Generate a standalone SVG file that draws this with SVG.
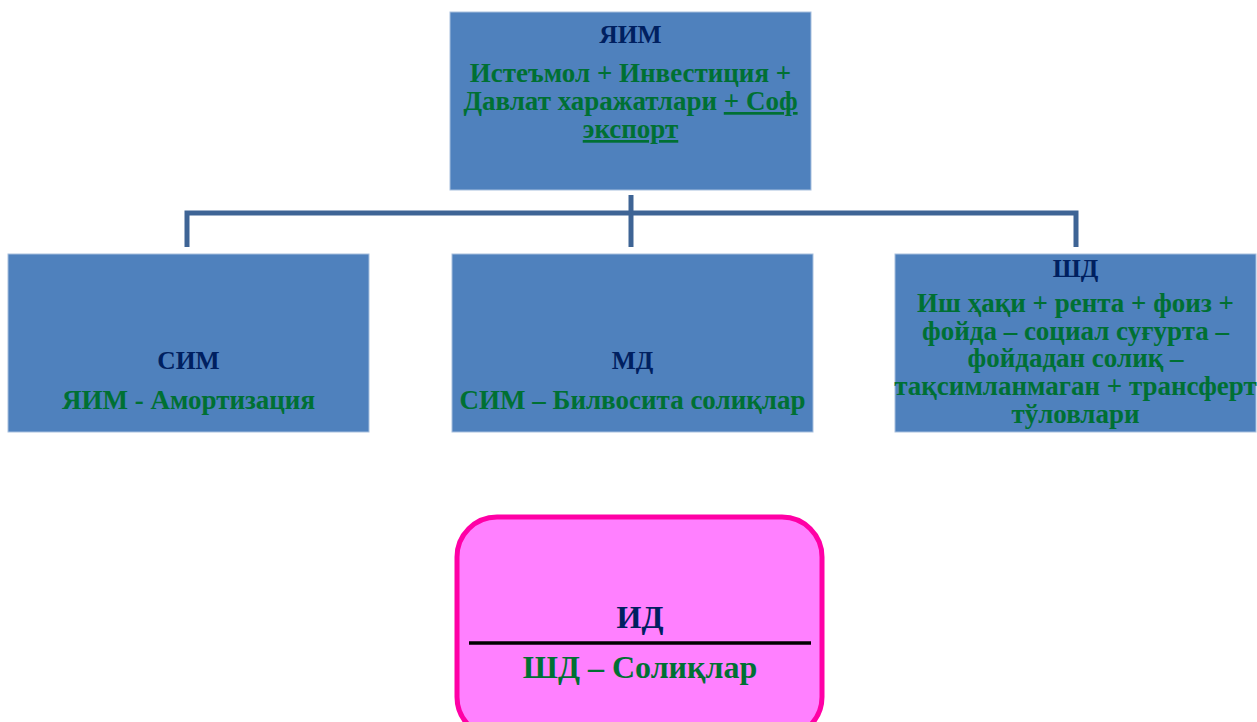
<svg xmlns="http://www.w3.org/2000/svg" width="1257" height="722" viewBox="0 0 1257 722">
<style>
.box{fill:#4f81bd;stroke:#a7bfde;stroke-width:1}
.t{font-family:"Liberation Serif","Times New Roman",serif;font-weight:bold;text-anchor:middle}
.h{fill:#002060;font-size:25.5px}
.g{fill:#007033;font-size:27px}
.conn{fill:none;stroke:#3e6495;stroke-width:5}
</style>
<rect width="1257" height="722" fill="#ffffff"/>
<g id="connectors">
<path class="conn" d="M187 247 V213 H1076 V247"/>
<path class="conn" d="M631 195 V247"/>
</g>
<g id="node-yaim">
<rect class="box" x="450" y="12" width="361" height="178"/>
<text class="t h" x="630.5" y="43">ЯИМ</text>
<text class="t g" x="630.5" y="82">Истеъмол + Инвестиция +</text>
<text class="t g" x="630.5" y="110">Давлат харажатлари <tspan text-decoration="underline">+ Соф</tspan></text>
<text class="t g" x="630.5" y="138" text-decoration="underline">экспорт</text>
</g>
<g id="node-sim">
<rect class="box" x="8" y="254" width="361" height="178"/>
<text class="t h" x="188.5" y="369">СИМ</text>
<text class="t g" x="188.5" y="409">ЯИМ - Амортизация</text>
</g>
<g id="node-md">
<rect class="box" x="452" y="254" width="361" height="178"/>
<text class="t h" x="632.5" y="369">МД</text>
<text class="t g" x="632.5" y="409">СИМ – Билвосита солиқлар</text>
</g>
<g id="node-shd">
<rect class="box" x="895" y="254" width="361" height="178"/>
<text class="t h" x="1075.5" y="277">ШД</text>
<text class="t g" x="1075.5" y="312">Иш ҳақи + рента + фоиз +</text>
<text class="t g" x="1075.5" y="340">фойда – социал суғурта –</text>
<text class="t g" x="1075.5" y="367">фойдадан солиқ –</text>
<text class="t g" x="1075.5" y="395">тақсимланмаган + трансферт</text>
<text class="t g" x="1075.5" y="423">тўловлари</text>
</g>
<g id="node-id">
<rect x="457" y="517" width="365" height="220" rx="40" ry="40" fill="#ff80ff" stroke="#ff00a6" stroke-width="5"/>
<text class="t" x="640" y="628" fill="#002060" font-size="32">ИД</text>
<line x1="469" y1="643" x2="811" y2="643" stroke="#000000" stroke-width="3.5"/>
<text class="t" x="640" y="678" fill="#007033" font-size="32">ШД – Солиқлар</text>
</g>
</svg>
